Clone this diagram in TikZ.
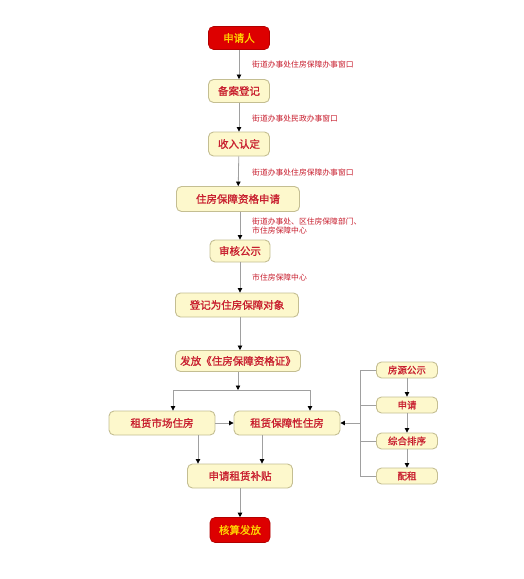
\documentclass[tikz,border=0pt]{standalone}
\usepackage{fontspec}
\setmainfont{Noto Sans CJK SC}
\newfontfamily\cjkb{Noto Sans CJK SC}[FakeBold=1.2]
\usetikzlibrary{arrows.meta}
\definecolor{boxfill}{HTML}{FDF8CC}
\definecolor{boxline}{HTML}{C4BE92}
\definecolor{txtred}{HTML}{C81E2E}
\definecolor{redfill}{HTML}{DD0000}
\definecolor{redtxt}{HTML}{FFD200}
\definecolor{lne}{HTML}{A0A0A0}
\tikzset{
  bx/.style={draw=boxline, fill=boxfill, rounded corners=5pt, line width=0.9pt,
    text=txtred, font=\cjkb\fontsize{10.5}{12}\selectfont, inner sep=0pt, anchor=center},
  rbx/.style={draw=redfill!80!black, fill=redfill, rounded corners=5pt, line width=0.6pt,
    text=redtxt, font=\cjkb\fontsize{10.5}{12}\selectfont, inner sep=0pt, anchor=center},
  lab/.style={text=txtred, font=\fontsize{7.8}{9.5}\selectfont, anchor=west, inner sep=0pt, align=left},
  con/.style={draw=lne, line width=0.8pt, -{Triangle[length=4.5pt,width=4.5pt,fill=black,color=black]}},
  ln/.style={draw=lne, line width=0.8pt}
}
\begin{document}
\begin{tikzpicture}[x=1pt,y=-1pt]
\useasboundingbox (0,0) rectangle (524,579);
\fill[white] (0,0) rectangle (524,579);
% main column
\node[rbx, minimum width=61pt, minimum height=23pt] (a) at (239,38) {申请人};
\node[bx, minimum width=61pt, minimum height=23pt] (b) at (239,91) {备案登记};
\node[bx, minimum width=61pt, minimum height=24pt] (c) at (239,144) {收入认定};
\node[bx, minimum width=123pt, minimum height=25pt] (d) at (238,199) {住房保障资格申请};
\node[bx, minimum width=60pt, minimum height=22pt] (e) at (240,251) {审核公示};
\node[bx, minimum width=123pt, minimum height=24pt] (f) at (237,305) {登记为住房保障对象};
\node[bx, minimum width=125pt, minimum height=21pt] (g) at (238,361) {发放《住房保障资格证》};
\node[bx, minimum width=106pt, minimum height=24pt] (h) at (162,423) {租赁市场住房};
\node[bx, minimum width=106pt, minimum height=24pt] (i) at (287,423) {租赁保障性住房};
\node[bx, minimum width=105pt, minimum height=24pt] (j) at (240,476) {申请租赁补贴};
\node[rbx, minimum width=60pt, minimum height=25pt] (k) at (240,530) {核算发放};
% right column
\node[bx, minimum width=61pt, minimum height=16pt, font=\cjkb\fontsize{9.5}{11}\selectfont] (r1) at (407,370) {房源公示};
\node[bx, minimum width=61pt, minimum height=16pt, font=\cjkb\fontsize{9.5}{11}\selectfont] (r2) at (407,405) {申请};
\node[bx, minimum width=61pt, minimum height=16pt, font=\cjkb\fontsize{9.5}{11}\selectfont] (r3) at (407,441) {综合排序};
\node[bx, minimum width=61pt, minimum height=16pt, font=\cjkb\fontsize{9.5}{11}\selectfont] (r4) at (407,476) {配租};
% connectors main column
\draw[con] (a) -- (b);
\draw[con] (b) -- (c);
\draw[con] (c) -- (d);
\draw[con] (d.south -| e) -- (e);
\draw[con] (e) -- (f.north -| e);
\draw[con] (f.south -| e) -- (g.north -| e);
% labels
\node[lab] (l1) at (252,65) {街道办事处住房保障办事窗口};
\node[lab] (l2) at (252,119) {街道办事处民政办事窗口};
\node[lab] (l3) at (252,173) {街道办事处住房保障办事窗口};
\node[lab] (l4) at (252,226) {街道办事处、区住房保障部门、\\市住房保障中心};
\node[lab] (l5) at (252,277) {市住房保障中心};
% branch
\coordinate (br) at (238,390);
\coordinate (brl) at (173,390);
\coordinate (brr) at (310,390);
\draw[con] (g.south -| br) -- (br);
\draw[ln] (brl) -- (brr);
\draw[con] (brl) -- (h.north -| brl);
\draw[con] (brr) -- (i.north -| brr);
\draw[con] (h) -- (i);
\coordinate (hx) at (198,0);
\coordinate (ix) at (262,0);
\draw[con] (h.south -| hx) -- (j.north -| hx);
\draw[con] (i.south -| ix) -- (j.north -| ix);
\draw[con] (j.south -| k) -- (k);
% right bracket
\coordinate (bt) at (360,370);
\coordinate (bb) at (360,476);
\coordinate (bm) at (360,423);
\draw[ln] (r1.west) -- (bt) -- (bb) -- (r4.west);
\draw[ln] (r2.west) -- (r2.west -| bt);
\draw[ln] (r3.west) -- (r3.west -| bt);
\draw[con] (bm) -- (i.east);
\draw[con] (r1) -- (r2);
\draw[con] (r2) -- (r3);
\draw[con] (r3) -- (r4);
\end{tikzpicture}
\end{document}
